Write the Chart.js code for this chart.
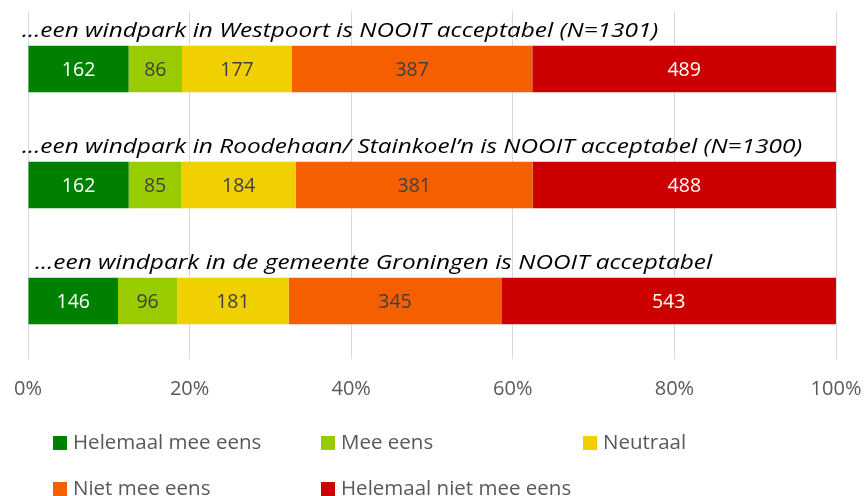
<!DOCTYPE html>
<html>
<head>
<meta charset="utf-8">
<script src="https://cdn.jsdelivr.net/npm/chart.js@4"></script>
<style>
  html, body { margin: 0; padding: 0; background: #ffffff; }
  #wrap { width: 866px; height: 496px; position: relative; }
</style>
</head>
<body>
<div id="wrap"><canvas id="c" width="866" height="496"></canvas></div>
<script>
// ---- data ----
const categories = [
  "...een windpark in Westpoort is NOOIT acceptabel (N=1301)",
  "...een windpark in Roodehaan/ Stainkoel\u2019n is NOOIT acceptabel (N=1300)",
  "...een windpark in de gemeente Groningen is NOOIT acceptabel"
];
const seriesNames = ["Helemaal mee eens", "Mee eens", "Neutraal", "Niet mee eens", "Helemaal niet mee eens"];
const helemaalMeeEens = [162, 162, 146];
const meeEens = [86, 85, 96];
const neutraal = [177, 184, 181];
const nietMeeEens = [387, 381, 345];
const helemaalNietMeeEens = [489, 488, 543];
const tickLabels = ["0%", "20%", "40%", "60%", "80%", "100%"];

// ---- styles ----
const seriesColors = ["#008000", "#99CC00", "#F0D000", "#F55F00", "#CC0000"];
const labelColors = ["#ffffff", "#404040", "#404040", "#404040", "#ffffff"];
const titleOffsetX = [22, 22, 35];
const titleStretch = 1.22;

const counts = [helemaalMeeEens, meeEens, neutraal, nietMeeEens, helemaalNietMeeEens];
const totals = categories.map((_, i) => counts.reduce((s, arr) => s + arr[i], 0));

const datasets = counts.map((arr, k) => ({
  label: seriesNames[k],
  data: arr.map((v, i) => v / totals[i] * 100),
  raw: arr,
  backgroundColor: seriesColors[k],
  borderWidth: 0,
  barPercentage: 0.4,
  categoryPercentage: 1.0
}));

const overlayPlugin = {
  id: 'overlay',
  afterDatasetsDraw(chart) {
    const ctx = chart.ctx;
    ctx.save();
    ctx.textAlign = 'center';
    ctx.textBaseline = 'middle';
    ctx.font = '19.5px "Open Sans"';
    chart.data.datasets.forEach((ds, k) => {
      const meta = chart.getDatasetMeta(k);
      meta.data.forEach((bar, i) => {
        const p = bar.getProps(['x', 'y', 'base'], true);
        const cx = (p.x + p.base) / 2;
        ctx.fillStyle = labelColors[k];
        ctx.fillText(String(ds.raw[i]), cx, p.y + 1);
      });
    });
    ctx.textAlign = 'left';
    ctx.textBaseline = 'middle';
    ctx.font = 'italic 20px "Open Sans"';
    ctx.fillStyle = '#000000';
    const meta0 = chart.getDatasetMeta(0);
    meta0.data.forEach((bar, i) => {
      const h = bar.height;
      ctx.save();
      ctx.translate(titleOffsetX[i], bar.y - h / 2 - 15);
      ctx.scale(titleStretch, 1);
      ctx.fillText(chart.data.labels[i], 0, 0);
      ctx.restore();
    });
    ctx.restore();
  },
  afterDraw(chart) {
    const ctx = chart.ctx;
    ctx.save();
    const colsX = [53, 321, 583];
    const rowsY = [443, 489];
    ctx.font = '20.5px "Open Sans"';
    ctx.textAlign = 'left';
    ctx.textBaseline = 'middle';
    chart.data.datasets.forEach((ds, k) => {
      const x = colsX[k % 3];
      const y = rowsY[Math.floor(k / 3)];
      ctx.fillStyle = ds.backgroundColor;
      ctx.fillRect(x, y - 7, 14, 14);
      ctx.fillStyle = '#595959';
      ctx.fillText(ds.label, x + 20, y);
    });
    ctx.restore();
  }
};

new Chart(document.getElementById('c'), {
  type: 'bar',
  data: { labels: categories, datasets },
  options: {
    indexAxis: 'y',
    responsive: false,
    animation: false,
    layout: { padding: { left: 28, right: 30, top: 11, bottom: 77 } },
    plugins: { legend: { display: false }, tooltip: { enabled: false } },
    scales: {
      x: {
        stacked: true,
        min: 0, max: 100,
        grid: { color: '#d9d9d9', lineWidth: 1, drawTicks: false },
        border: { display: false },
        afterFit(scale) { scale.paddingLeft = 0; scale.paddingRight = 0; },
        ticks: {
          stepSize: 20,
          padding: 18,
          color: '#595959',
          font: { size: 20, family: '"Open Sans"' },
          callback: (v, idx) => tickLabels[idx]
        }
      },
      y: { stacked: true, display: false }
    }
  },
  plugins: [overlayPlugin]
});
</script>
</body>
</html>
